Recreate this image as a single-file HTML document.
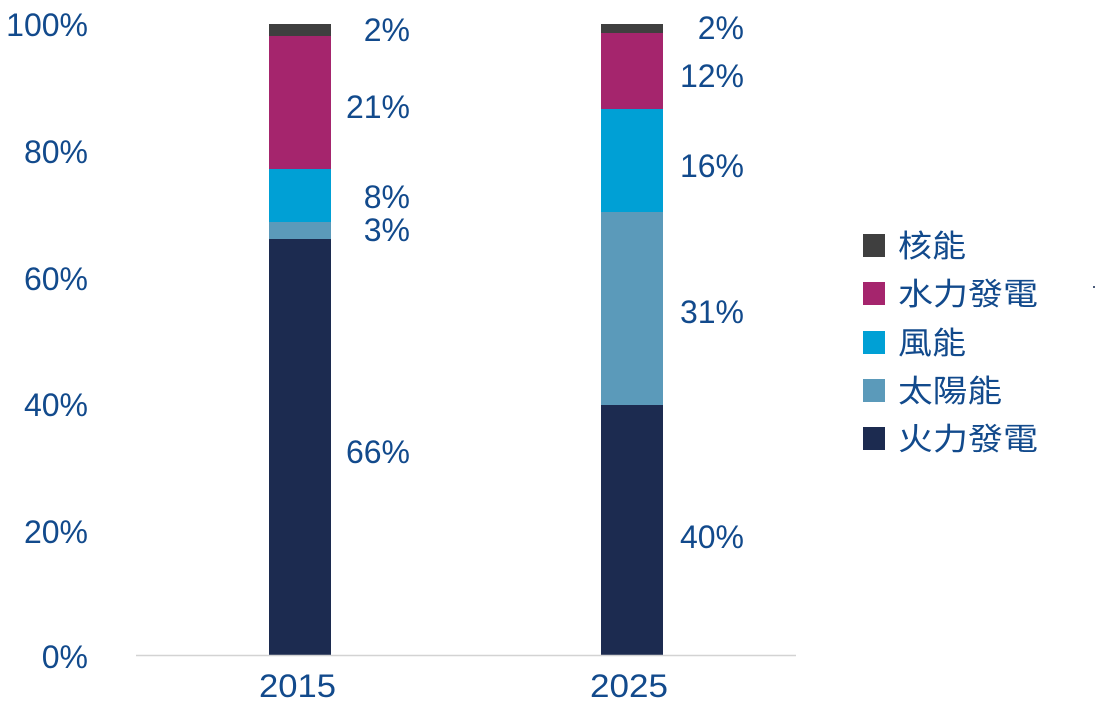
<!DOCTYPE html>
<html>
<head>
<meta charset="utf-8">
<style>
  html, body { margin: 0; padding: 0; background: #ffffff; }
  svg { display: block; }
  .t { font-family: "Liberation Sans", sans-serif; font-size: 32px; fill: #124a8c; }
  .lg { font-family: "Liberation Sans", "Noto Sans CJK TC", sans-serif; font-size: 31px; fill: #124a8c; }
</style>
</head>
<body>
<svg width="1100" height="702" viewBox="0 0 1100 702" xmlns="http://www.w3.org/2000/svg">
  <rect x="0" y="0" width="1100" height="702" fill="#ffffff"/>

  <!-- Y axis labels -->
  <text class="t" x="88" y="36" text-anchor="end">100%</text>
  <text class="t" x="88" y="163" text-anchor="end">80%</text>
  <text class="t" x="88" y="290" text-anchor="end">60%</text>
  <text class="t" x="88" y="416" text-anchor="end">40%</text>
  <text class="t" x="88" y="543" text-anchor="end">20%</text>
  <text class="t" x="88" y="668" text-anchor="end">0%</text>

  <!-- Bar 2015 -->
  <rect x="269" y="24" width="62" height="12" fill="#3f3f3f"/>
  <rect x="269" y="36" width="62" height="133" fill="#a5256d"/>
  <rect x="269" y="169" width="62" height="53" fill="#00a0d5"/>
  <rect x="269" y="222" width="62" height="17" fill="#5b9aba"/>
  <rect x="269" y="239" width="62" height="416" fill="#1c2b50"/>

  <!-- Bar 2025 -->
  <rect x="601" y="24" width="62" height="9" fill="#3f3f3f"/>
  <rect x="601" y="33" width="62" height="76" fill="#a5256d"/>
  <rect x="601" y="109" width="62" height="103" fill="#00a0d5"/>
  <rect x="601" y="212" width="62" height="193" fill="#5b9aba"/>
  <rect x="601" y="405" width="62" height="250" fill="#1c2b50"/>

  <!-- Axis line -->
  <line x1="136" y1="655.5" x2="796" y2="655.5" stroke="#d3d3d3" stroke-width="1.5"/>

  <!-- Data labels 2015 -->
  <text class="t" x="410" y="41" text-anchor="end">2%</text>
  <text class="t" x="410" y="118" text-anchor="end">21%</text>
  <text class="t" x="410" y="208" text-anchor="end">8%</text>
  <text class="t" x="410" y="241" text-anchor="end">3%</text>
  <text class="t" x="410" y="463" text-anchor="end">66%</text>

  <!-- Data labels 2025 -->
  <text class="t" x="744" y="39" text-anchor="end">2%</text>
  <text class="t" x="744" y="87" text-anchor="end">12%</text>
  <text class="t" x="744" y="177" text-anchor="end">16%</text>
  <text class="t" x="744" y="323" text-anchor="end">31%</text>
  <text class="t" x="744" y="548" text-anchor="end">40%</text>

  <!-- X axis labels -->
  <text class="t" x="259" y="697" textLength="77" lengthAdjust="spacingAndGlyphs">2015</text>
  <text class="t" x="590" y="697" textLength="78" lengthAdjust="spacingAndGlyphs">2025</text>

  <!-- Legend -->
  <rect x="863" y="234" width="22" height="23" fill="#3f3f3f"/>
  <text class="lg" x="898" y="257" textLength="68" lengthAdjust="spacingAndGlyphs">核能</text>

  <rect x="863" y="282" width="22" height="23" fill="#a5256d"/>
  <text class="lg" x="898" y="305" textLength="140" lengthAdjust="spacingAndGlyphs">水力發電</text>

  <rect x="863" y="331" width="22" height="23" fill="#00a0d5"/>
  <text class="lg" x="898" y="354" textLength="68" lengthAdjust="spacingAndGlyphs">風能</text>

  <rect x="863" y="379" width="22" height="23" fill="#5b9aba"/>
  <text class="lg" x="898" y="402" textLength="104" lengthAdjust="spacingAndGlyphs">太陽能</text>

  <rect x="863" y="427" width="22" height="23" fill="#1c2b50"/>
  <text class="lg" x="898" y="450" textLength="140" lengthAdjust="spacingAndGlyphs">火力發電</text>

  <!-- tiny dot -->
  <rect x="1093" y="286" width="2" height="2" fill="#4a5a7a"/>
</svg>
</body>
</html>
